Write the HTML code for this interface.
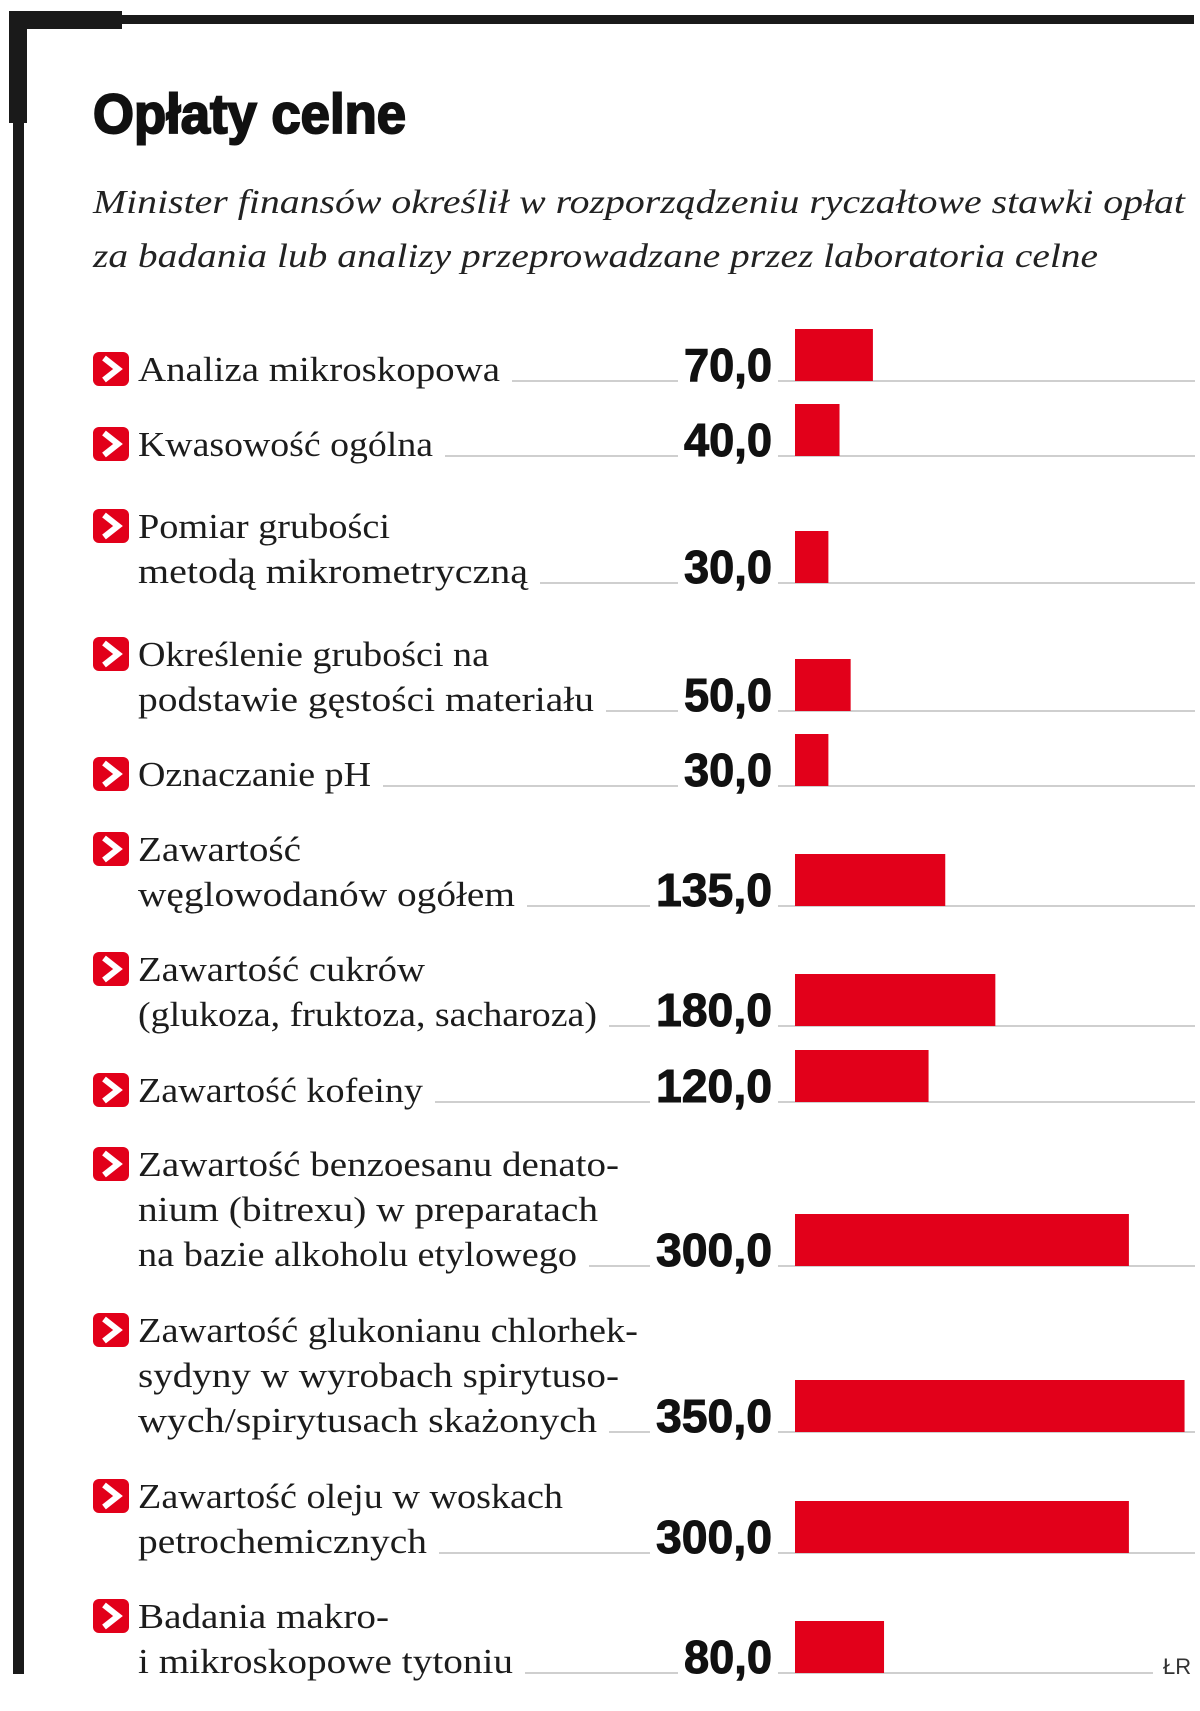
<!DOCTYPE html>
<html><head><meta charset="utf-8"><style>
html,body{margin:0;padding:0;background:#fff}
svg{display:block}
.lbl{font-family:"Liberation Serif",serif;font-size:35px;fill:#1c1c1c}
.num{font-family:"Liberation Sans Narrow","Liberation Sans",sans-serif;font-weight:bold;font-size:46px;fill:#111;stroke:#111;stroke-width:1}
</style></head><body>
<svg id="chart" width="1200" height="1711" viewBox="0 0 1200 1711" xmlns="http://www.w3.org/2000/svg">
  <g>
    <rect x="9" y="11" width="113" height="18" fill="#1a1a1a"/>
    <rect x="9" y="15" width="1185" height="9" fill="#1a1a1a"/>
    <rect x="9" y="11" width="18" height="112" fill="#1a1a1a"/>
    <rect x="13" y="11" width="11" height="1663" fill="#1a1a1a"/>
  </g>
  <text x="93" y="133" textLength="313" lengthAdjust="spacingAndGlyphs" style="font-family:'Liberation Sans',sans-serif;font-weight:bold;font-size:56px;fill:#111;stroke:#111;stroke-width:2">Opłaty celne</text>
  <g style="font-family:'Liberation Serif',serif;font-style:italic;font-size:34px;fill:#222">
    <text x="93" y="213" textLength="1092" lengthAdjust="spacingAndGlyphs">Minister finansów określił w rozporządzeniu ryczałtowe stawki opłat</text>
    <text x="93" y="267" textLength="1005" lengthAdjust="spacingAndGlyphs">za badania lub analizy przeprowadzane przez laboratoria celne</text>
  </g>
  <g id="rows"></g>
  <text x="1163" y="1674" style="font-family:'Liberation Sans',sans-serif;font-size:22px;fill:#333">ŁR</text>
</svg>
<script>
const categories = [
  ["Analiza mikroskopowa"],
  ["Kwasowość ogólna"],
  ["Pomiar grubości","metodą mikrometryczną"],
  ["Określenie grubości na","podstawie gęstości materiału"],
  ["Oznaczanie pH"],
  ["Zawartość","węglowodanów ogółem"],
  ["Zawartość cukrów","(glukoza, fruktoza, sacharoza)"],
  ["Zawartość kofeiny"],
  ["Zawartość benzoesanu denato-","nium (bitrexu) w preparatach","na bazie alkoholu etylowego"],
  ["Zawartość glukonianu chlorhek-","sydyny w wyrobach spirytuso-","wych/spirytusach skażonych"],
  ["Zawartość oleju w woskach","petrochemicznych"],
  ["Badania makro-","i mikroskopowe tytoniu"]
];
const values = [70, 40, 30, 50, 30, 135, 180, 120, 300, 350, 300, 80];
const labelWidths = [
  [362],[295],[252,390],[351,456],[233],[163,377],[287,459],[285],[481,460,439],[500,481,459],[425,289],[251,375]
];
const rowBottoms = [381,456,583,711,786,906,1026,1102,1266,1432,1553,1673];

const NS = "http://www.w3.org/2000/svg";
const X0 = 795, UNIT = 1.113, BAR_H = 52, LINE_H = 45, LABEL_X = 138, NUM_R = 772;
const xScale = v => X0 + v * UNIT;
const rows = document.getElementById('rows');
function mk(tag, attrs){ const e=document.createElementNS(NS,tag); for(const k in attrs) e.setAttribute(k,attrs[k]); return e; }

categories.forEach((lines, i) => {
  const g = mk('g', {});
  
  
  const bottom = rowBottoms[i];
  const n = lines.length;
  const firstBase = bottom - (n-1)*LINE_H;
  const icon = mk('g', {});
  
  
  icon.appendChild(mk('rect', {x:93, y:firstBase-29, width:36, height:34, rx:6, fill:'#e2001a'}));
  icon.appendChild(mk('path', {d:`M104 ${firstBase-23} L118 ${firstBase-12} L104 ${firstBase-1}`, fill:'none', stroke:'#fff', 'stroke-width':6}));
  g.appendChild(icon);
  lines.forEach((t, j) => {
    const tx = mk('text', {x:LABEL_X, y:firstBase + j*LINE_H, class:'lbl', textLength:labelWidths[i][j], lengthAdjust:'spacingAndGlyphs'});
    tx.textContent = t;
    
    
    g.appendChild(tx);
  });
  const label = values[i].toFixed(1).replace('.', ',');
  const numW = label.length === 4 ? 88 : 116;
  const lastW = labelWidths[i][n-1];
  const leader = mk('line', {x1:LABEL_X+lastW+12, x2:NUM_R-numW-6, y1:bottom, y2:bottom, stroke:'#cfcfcf', 'stroke-width':2});
  
  
  g.appendChild(leader);
  const endX = i === categories.length-1 ? 1153 : 1195;
  const base = mk('line', {x1:778, x2:endX, y1:bottom, y2:bottom, stroke:'#cfcfcf', 'stroke-width':2});
  
  
  g.appendChild(base);
  const num = mk('text', {x:NUM_R-numW, y:bottom, class:'num', textLength:numW, lengthAdjust:'spacingAndGlyphs'});
  num.textContent = label;
  
  
  g.appendChild(num);
  const bar = mk('rect', {x:xScale(0), y:bottom-BAR_H, width:xScale(values[i])-xScale(0), height:BAR_H, fill:'#e2001a'});
  
  
  g.appendChild(bar);
  rows.appendChild(g);
});
</script>
</body></html>
